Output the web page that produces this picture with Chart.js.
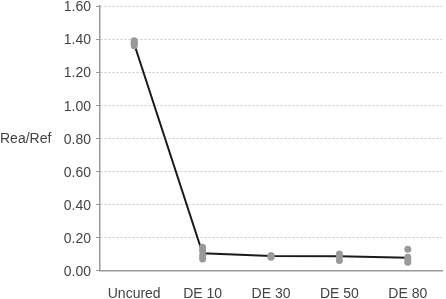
<!DOCTYPE html>
<html>
<head>
<meta charset="utf-8">
<script src="https://cdn.jsdelivr.net/npm/chart.js@4/dist/chart.umd.min.js"></script>
<style>
html,body{margin:0;padding:0;background:#fff;}
#wrap{width:446px;height:299px;position:relative;}
</style>
</head>
<body>
<div id="wrap"><canvas id="c" width="446" height="299"></canvas></div>
<script>
const categories = ['Uncured', 'DE 10', 'DE 30', 'DE 50', 'DE 80'];
const meanValues = [1.37, 0.104, 0.087, 0.086, 0.077];
const uncuredPoints = [1.36, 1.37, 1.38, 1.39];
const de10Points = [0.14, 0.12, 0.09, 0.07];
const de30Points = [0.08, 0.09, 0.085];
const de50Points = [0.10, 0.085, 0.06];
const de80Points = [0.128, 0.08, 0.065, 0.05];
const yTicks = [0, 0.2, 0.4, 0.6, 0.8, 1.0, 1.2, 1.4, 1.6];
const yLabel = 'Rea/Ref';

const samples = [uncuredPoints, de10Points, de30Points, de50Points, de80Points];
const scatterData = [];
samples.forEach((arr, i) => arr.forEach(v => scatterData.push({x: categories[i], y: v})));

const FONT = "'Liberation Sans', Arial, sans-serif";

const yLabelPlugin = {
  id: 'yLabel',
  afterDraw(chart) {
    const {ctx, scales} = chart;
    const y = scales.y.getPixelForValue(0.8);
    ctx.save();
    ctx.font = '14px ' + FONT;
    ctx.fillStyle = '#444';
    ctx.textAlign = 'left';
    ctx.textBaseline = 'middle';
    ctx.fillText(yLabel, 0, y + 1);
    ctx.restore();
  }
};

new Chart(document.getElementById('c'), {
  type: 'line',
  data: {
    labels: categories,
    datasets: [
      {
        data: scatterData,
        showLine: false,
        pointRadius: 3.5,
        pointHoverRadius: 3.5,
        pointBackgroundColor: '#9a9a9a',
        pointBorderColor: '#9a9a9a',
        pointBorderWidth: 0
      },
      {
        data: meanValues,
        borderColor: '#1a1a1a',
        borderWidth: 2,
        pointRadius: 0,
        tension: 0,
        fill: false
      }
    ]
  },
  options: {
    responsive: false,
    animation: false,
    events: [],
    layout: {padding: {top: 6, right: 4, left: 0, bottom: 0}},
    plugins: {legend: {display: false}, tooltip: {enabled: false}},
    scales: {
      x: {
        type: 'category',
        offset: true,
        grid: {display: false},
        border: {display: true, color: '#999', width: 1.5},
        ticks: {
          color: '#444',
          font: {family: FONT, size: 14},
          padding: 7,
          maxRotation: 0,
          autoSkip: false
        },
        afterFit(s) { s.height = 28.5; }
      },
      y: {
        min: 0,
        max: 1.6,
        afterBuildTicks(s) { s.ticks = yTicks.map(v => ({value: v})); },
        grid: {
          color: '#c8c8c8',
          tickLength: 4,
          tickColor: '#999',
          tickBorderDash: [],
          drawOnChartArea: true
        },
        border: {display: true, color: '#999', width: 1.5, dash: [2, 2]},
        ticks: {
          color: '#444',
          font: {family: FONT, size: 14},
          padding: 5,
          labelOffset: 1.5,
          callback: v => Number(v).toFixed(2)
        },
        afterFit(s) { s.width = 100; s.paddingTop = 0; s.paddingBottom = 0; }
      }
    }
  },
  plugins: [yLabelPlugin]
});
</script>
</body>
</html>
